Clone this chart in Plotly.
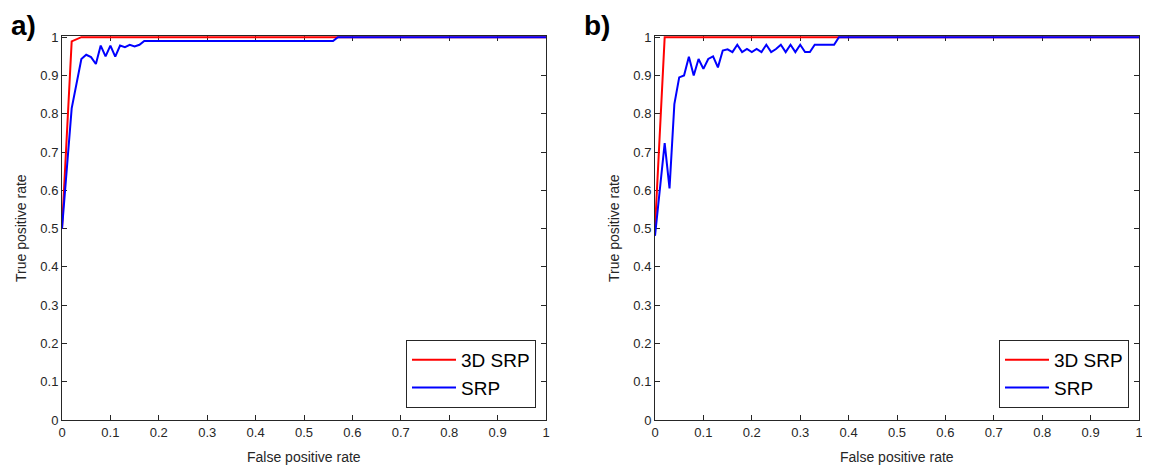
import plotly.graph_objects as go

# ---- data ----
tick_vals = [0, 0.1, 0.2, 0.3, 0.4, 0.5, 0.6, 0.7, 0.8, 0.9, 1]
tick_text = ["0", "0.1", "0.2", "0.3", "0.4", "0.5", "0.6", "0.7", "0.8", "0.9", "1"]

a_red_x = [0, 0.02, 0.04, 1.0]
a_red_y = [0.5, 0.989, 1.0, 1.0]
a_blue_x = [0, 0.02, 0.04, 0.05, 0.06, 0.07, 0.08, 0.09, 0.10, 0.11, 0.12,
            0.13, 0.14, 0.15, 0.16, 0.17, 0.56, 0.57, 1.0]
a_blue_y = [0.5, 0.814, 0.943, 0.954, 0.948, 0.930, 0.978, 0.950, 0.978, 0.949, 0.978,
            0.974, 0.980, 0.976, 0.980, 0.990, 0.990, 1.0, 1.0]

b_red_x = [0, 0.02, 1.0]
b_red_y = [0.5, 1.0, 1.0]
b_blue_x = [0, 0.02, 0.03, 0.04, 0.05, 0.06, 0.07, 0.08, 0.09, 0.10, 0.11, 0.12,
            0.13, 0.14, 0.15, 0.16, 0.17, 0.18, 0.19, 0.20, 0.21, 0.22, 0.23,
            0.24, 0.25, 0.26, 0.27, 0.28, 0.29, 0.30, 0.31, 0.32, 0.33, 0.37,
            0.38, 1.0]
b_blue_y = [0.481, 0.723, 0.605, 0.825, 0.895, 0.900, 0.949, 0.900, 0.943, 0.917,
            0.943, 0.950, 0.921, 0.965, 0.968, 0.961, 0.980, 0.961, 0.969, 0.961,
            0.969, 0.961, 0.980, 0.961, 0.969, 0.980, 0.961, 0.980, 0.961, 0.980,
            0.961, 0.961, 0.980, 0.980, 1.0, 1.0]

series_names = ["3D SRP", "SRP"]
panel_labels = ["a)", "b)"]
x_title = "False positive rate"
y_title = "True positive rate"

RED = "#ff0000"
BLUE = "#0000ff"
AX = "#262626"
FONT = "Liberation Sans, Arial, sans-serif"

# the page body has an 8px margin; figure sized so it fits the 1150x468 window
OFF = 8
W, H = 1150 - OFF, 468 - OFF
def px(x):
    return (x - OFF) / W
def py(y):
    return 1 - (y - OFF) / H

fig = go.Figure()

fig.add_trace(go.Scatter(x=a_red_x, y=a_red_y, mode="lines", name=series_names[0],
                         line=dict(color=RED, width=2), xaxis="x", yaxis="y", legend="legend"))
fig.add_trace(go.Scatter(x=a_blue_x, y=a_blue_y, mode="lines", name=series_names[1],
                         line=dict(color=BLUE, width=2), xaxis="x", yaxis="y", legend="legend"))
fig.add_trace(go.Scatter(x=b_red_x, y=b_red_y, mode="lines", name=series_names[0],
                         line=dict(color=RED, width=2), xaxis="x2", yaxis="y2", legend="legend2"))
fig.add_trace(go.Scatter(x=b_blue_x, y=b_blue_y, mode="lines", name=series_names[1],
                         line=dict(color=BLUE, width=2), xaxis="x2", yaxis="y2", legend="legend2"))

axis_common = dict(tickvals=tick_vals, ticktext=tick_text,
                   ticks="inside", ticklen=5, tickcolor=AX, showline=True, linecolor=AX,
                   linewidth=1, mirror="ticks", showgrid=False, zeroline=False,
                   layer="below traces",
                   tickfont=dict(family=FONT, size=13, color=AX), fixedrange=True)

ydom = [py(420), py(36)]
legend_common = dict(bgcolor="white", bordercolor=AX, borderwidth=1,
                     font=dict(family=FONT, size=19, color="black"),
                     itemwidth=44,
                     xanchor="right", yanchor="bottom", tracegroupgap=0)

fig.update_layout(
    width=W, height=H,
    margin=dict(l=0, r=0, t=0, b=0, autoexpand=False),
    paper_bgcolor="white", plot_bgcolor="white",
    xaxis=dict(domain=[px(62), px(546)], anchor="y", range=[0, 1], **axis_common),
    yaxis=dict(domain=ydom, anchor="x", range=[0, 1.003], **axis_common),
    xaxis2=dict(domain=[px(655), px(1139)], anchor="y2", range=[0, 1], **axis_common),
    yaxis2=dict(domain=ydom, anchor="x2", range=[0, 1.003], **axis_common),
    legend=dict(x=px(536), y=py(408), **legend_common),
    legend2=dict(x=px(1129), y=py(408), **legend_common),
    showlegend=True,
)

annots = []
for lbl, xl in zip(panel_labels, [9, 582]):
    annots.append(dict(text="<b>%s</b>" % lbl, x=px(xl), y=py(8), xref="paper", yref="paper",
                       xanchor="left", yanchor="top", showarrow=False,
                       font=dict(family=FONT, size=28, color="black")))
for xc in [304, 897]:
    annots.append(dict(text=x_title, x=px(xc), y=py(457), xref="paper", yref="paper",
                       xanchor="center", yanchor="middle", showarrow=False,
                       font=dict(family=FONT, size=14, color=AX)))
for xc in [21, 614]:
    annots.append(dict(text=y_title, x=px(xc), y=py(228), xref="paper", yref="paper",
                       xanchor="center", yanchor="middle", showarrow=False, textangle=-90,
                       font=dict(family=FONT, size=14, color=AX)))
fig.update_layout(annotations=annots)

fig.write_html("out.html")
